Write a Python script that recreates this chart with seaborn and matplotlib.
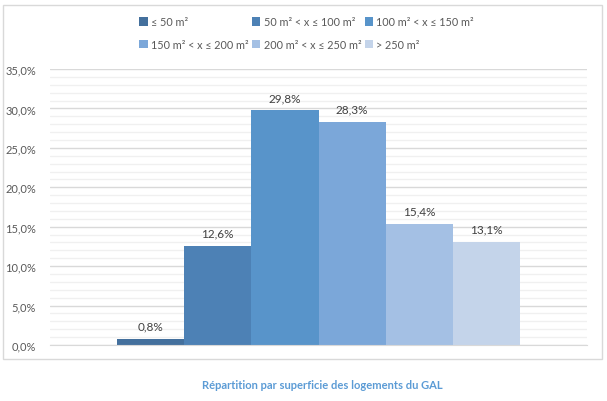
import seaborn as sns
import pandas as pd
import numpy as np
import matplotlib.pyplot as plt
from matplotlib.patches import Rectangle
from matplotlib.ticker import MultipleLocator, FuncFormatter

# surface classes and share of dwellings (%)
classes = ['≤ 50 m²', '50 m² < x ≤ 100 m²', '100 m² < x ≤ 150 m²',
           '150 m² < x ≤ 200 m²', '200 m² < x ≤ 250 m²', '> 250 m²']
parts = [0.8, 12.6, 29.8, 28.3, 15.4, 13.1]
couleurs = ['#44709D', '#4D81B5', '#5894CA', '#7BA7D9', '#A4C0E4', '#C4D4EA']

data = pd.DataFrame({'groupe': ['GAL'] * len(classes), 'classe': classes, 'part': parts})

sns.set_style('white')
plt.rcParams['font.family'] = ['Lato', 'DejaVu Sans']

fig = plt.figure(figsize=(6.07, 4.02), dpi=100)
ax = fig.add_axes([50 / 607, 1 - 346 / 402, 537 / 607, 276 / 402])

sns.barplot(data=data, x='groupe', y='part', hue='classe', palette=couleurs,
            saturation=1, width=0.75, linewidth=0, ax=ax, legend=True)

ax.set_xlim(-0.5, 0.5)
ax.set_ylim(0, 35)
ax.yaxis.set_major_locator(MultipleLocator(5))
ax.yaxis.set_minor_locator(MultipleLocator(1))
ax.yaxis.set_major_formatter(FuncFormatter(lambda v, p: f'{v:.1f}%'.replace('.', ',')))
ax.grid(axis='y', which='major', color='#D9D9D9', linewidth=1)
ax.grid(axis='y', which='minor', color='#F0F0F0', linewidth=1)
ax.set_axisbelow(True)
ax.tick_params(axis='y', which='both', length=0, labelsize=8, labelcolor='#595959', pad=10)
ax.set_xticks([])
ax.set_xlabel('')
ax.set_ylabel('')
for s in ['top', 'right', 'left']:
    ax.spines[s].set_visible(False)
ax.spines['bottom'].set_color('#D9D9D9')

# value labels
for cont in ax.containers:
    ax.bar_label(cont, labels=[f'{v:.1f}%'.replace('.', ',') for v in cont.datavalues],
                 padding=5, fontsize=8.5, color='#404040')

# legend in row order
handles, labels = ax.get_legend_handles_labels()
ordre = [0, 3, 1, 4, 2, 5]
ax.legend([handles[i] for i in ordre], [labels[i] for i in ordre],
          ncol=3, loc='center', bbox_to_anchor=(0.5 - 12 / 537, 1.0 + 36 / 276),
          frameon=False, fontsize=7.8, labelcolor='#595959',
          handlelength=0.8, handleheight=0.8, handletextpad=0.3,
          columnspacing=0.3, labelspacing=1.05)

# chart frame and caption
fig.patches.append(Rectangle((3 / 607, 1 - 360 / 402), 599 / 607, 354 / 402,
                             transform=fig.transFigure, fill=False,
                             edgecolor='#D9D9D9', linewidth=1))
fig.text(322 / 607, 1 - 386 / 402, 'Répartition par superficie des logements du GAL',
         ha='center', va='center', fontsize=8, fontweight='bold', color='#5B9BD5')

fig.savefig('out.png', dpi=100)
